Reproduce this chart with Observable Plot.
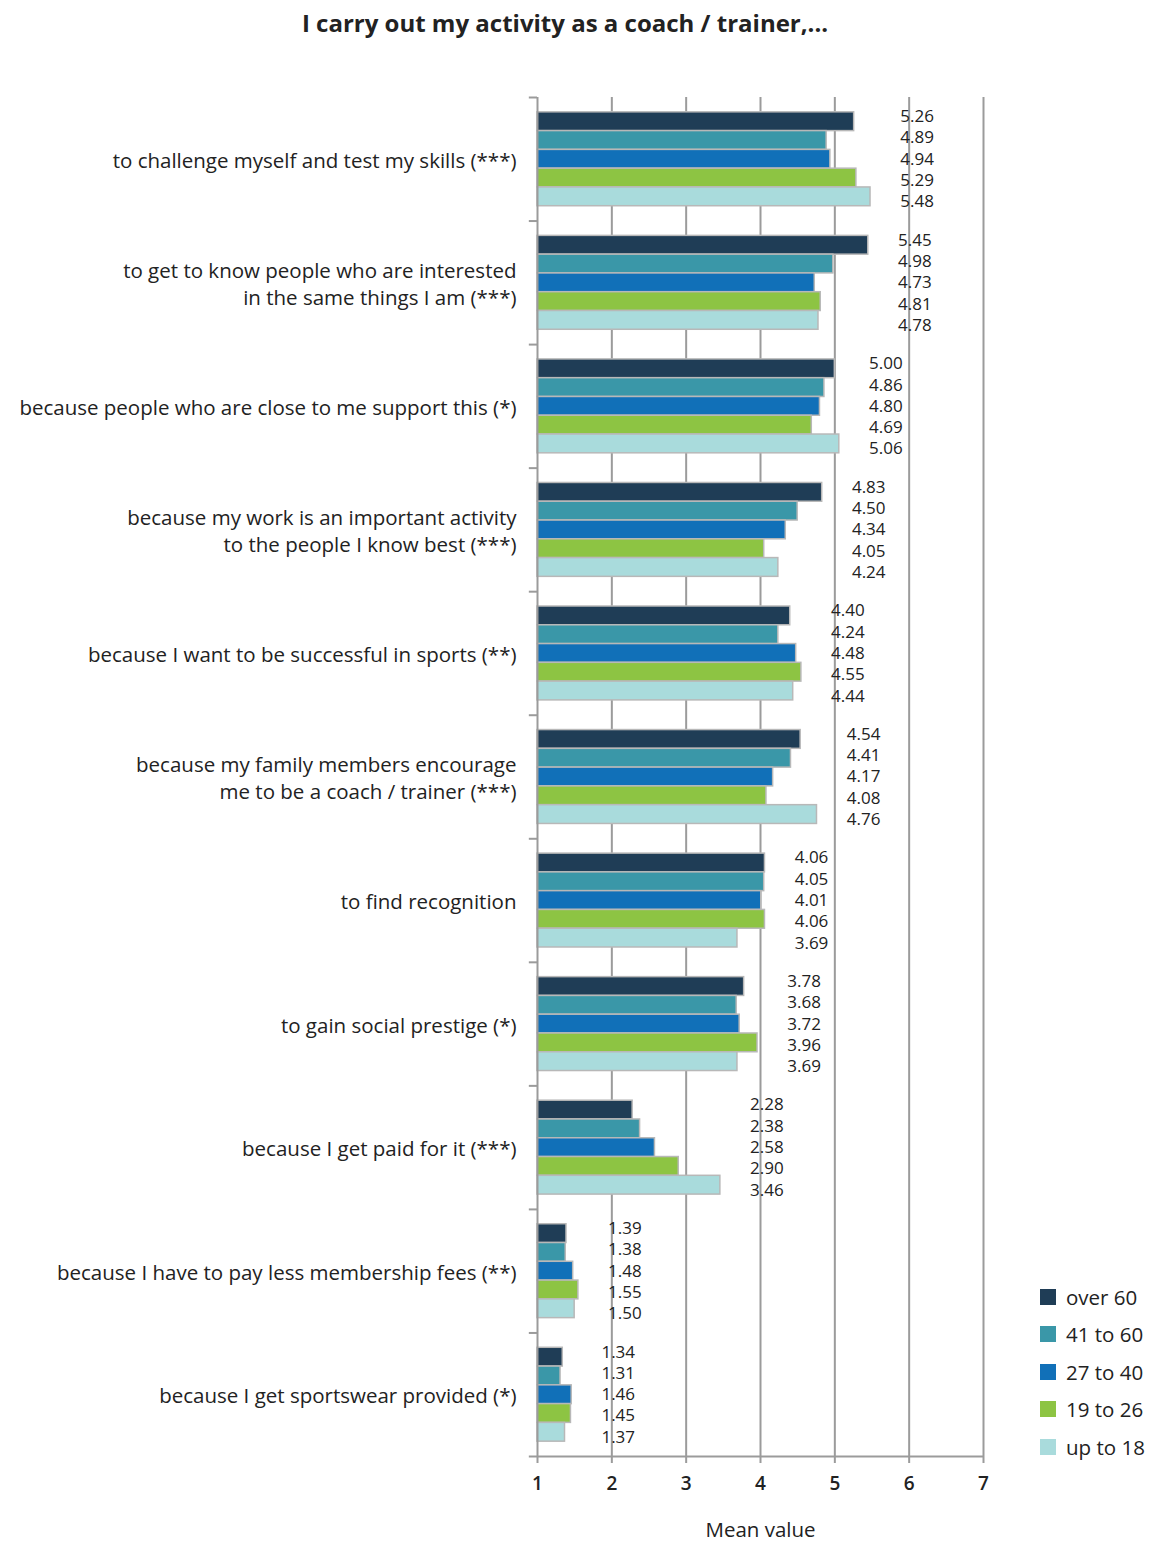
<!DOCTYPE html>
<html>
<head>
<meta charset="utf-8">
<script src="https://cdn.jsdelivr.net/npm/d3@7"></script>
<script src="https://cdn.jsdelivr.net/npm/@observablehq/plot@0.6"></script>
<style>
  html, body { margin: 0; padding: 0; background: #fff; }
  body { width: 1159px; height: 1547px; position: relative; font-family: "Open Sans", "Noto Sans", sans-serif; color: #222; overflow: hidden; }
  #title { position: absolute; left: 0; width: 1130px; top: 6px; text-align: center; font-size: 24px; font-weight: 700; color: #222; }
  #chart { position: absolute; left: 0; top: 50px; }
  #legend { position: absolute; left: 1040px; top: 1278px; }
  .item { display: flex; align-items: center; height: 37.5px; font-size: 20.5px; color: #222; }
  .sw { width: 16px; height: 16px; margin-right: 10px; }
</style>
</head>
<body>
<div id="title">I carry out my activity as a coach / trainer,...</div>
<div id="chart"></div>
<div id="legend"></div>
<script>
const categories = [
  "to challenge myself and test my skills (***)",
  "to get to know people who are interested\nin the same things I am (***)",
  "because people who are close to me support this (*)",
  "because my work is an important activity\nto the people I know best (***)",
  "because I want to be successful in sports (**)",
  "because my family members encourage\nme to be a coach / trainer (***)",
  "to find recognition",
  "to gain social prestige (*)",
  "because I get paid for it (***)",
  "because I have to pay less membership fees (**)",
  "because I get sportswear provided (*)"
];
const series = ["over 60", "41 to 60", "27 to 40", "19 to 26", "up to 18"];
const over60   = [5.26, 5.45, 5.00, 4.83, 4.40, 4.54, 4.06, 3.78, 2.28, 1.39, 1.34];
const age41to60 = [4.89, 4.98, 4.86, 4.50, 4.24, 4.41, 4.05, 3.68, 2.38, 1.38, 1.31];
const age27to40 = [4.94, 4.73, 4.80, 4.34, 4.48, 4.17, 4.01, 3.72, 2.58, 1.48, 1.46];
const age19to26 = [5.29, 4.81, 4.69, 4.05, 4.55, 4.08, 4.06, 3.96, 2.90, 1.55, 1.45];
const upTo18   = [5.48, 4.78, 5.06, 4.24, 4.44, 4.76, 3.69, 3.69, 3.46, 1.50, 1.37];
const colors = ["#1f3d56", "#3a97a8", "#1170b8", "#8dc443", "#a9dbdc"];
const xTicks = [1, 2, 3, 4, 5, 6, 7];
const xLabel = "Mean value";

const seriesValues = [over60, age41to60, age27to40, age19to26, upTo18];

// layout constants (in category units along y)
const barStep = 0.152, barSpan = barStep * 5, labelStep = 0.1725;

const rows = [];
categories.forEach((c, i) => {
  const groupMax = d3.max(seriesValues, s => s[i]);
  series.forEach((s, j) => {
    const v = seriesValues[j][i];
    const y1 = i + 0.5 - barSpan / 2 + j * barStep;
    rows.push({
      category: c, series: s, value: v,
      y1, y2: y1 + barStep,
      ly: i + 0.5 + (j - 2) * labelStep,
      lx: groupMax + 0.4
    });
  });
});

const grey = "#9b9b9b";
const W = 1159, H = 1497;
const font = "'Open Sans', 'Noto Sans', sans-serif";

const chart = Plot.plot({
  width: W, height: H,
  marginTop: 47, marginBottom: 91, marginLeft: 537, marginRight: 176,
  style: { fontFamily: font, color: "#222", background: "#fff" },
  x: { domain: [1, 7] },
  y: { domain: [0, categories.length], reverse: true, axis: null },
  color: { domain: series, range: colors },
  marks: [
    // vertical grid lines
    Plot.ruleX(xTicks.slice(1), { y1: 0, y2: categories.length, stroke: grey, strokeWidth: 2 }),
    // bars
    Plot.rect(rows, { x1: 1, x2: "value", y1: "y1", y2: "y2", fill: "series", stroke: "#b8b8b8", strokeWidth: 1.5 }),
    // left axis line and group boundary ticks
    Plot.ruleX([1], { y1: 0, y2: categories.length, stroke: grey, strokeWidth: 2 }),
    Plot.ruleY(d3.range(categories.length), { x1: 0.89, x2: 1, stroke: grey, strokeWidth: 2 }),
    // bottom axis line
    Plot.ruleY([categories.length], { x1: 0.89, x2: 7, stroke: grey, strokeWidth: 2 }),
    Plot.axisX({ ticks: xTicks, tickFormat: d3.format("d"), tickSize: 7, tickPadding: 13, stroke: grey, strokeWidth: 2,
                 fontSize: 19, fontWeight: 600, fill: "#222", label: null }),
    Plot.text([xLabel], { frameAnchor: "bottom", text: d => d, dy: 80, fontSize: 20.5, fill: "#222" }),
    // category labels
    Plot.text(categories, { x: 1, y: (d, i) => i + 0.5, text: d => d, textAnchor: "end", lineAnchor: "middle",
                            dx: -21, fontSize: 20.5, fill: "#222", lineHeight: 1.3 }),
    // value labels
    Plot.text(rows, { x: "lx", y: "ly", text: d => d.value.toFixed(2), textAnchor: "start", fontSize: 17, fill: "#222" })
  ]
});
document.getElementById("chart").appendChild(chart);

const legend = document.getElementById("legend");
series.forEach((s, j) => {
  const item = document.createElement("div");
  item.className = "item";
  item.innerHTML = `<span class="sw" style="background:${colors[j]}"></span><span>${s}</span>`;
  legend.appendChild(item);
});
</script>
</body>
</html>
